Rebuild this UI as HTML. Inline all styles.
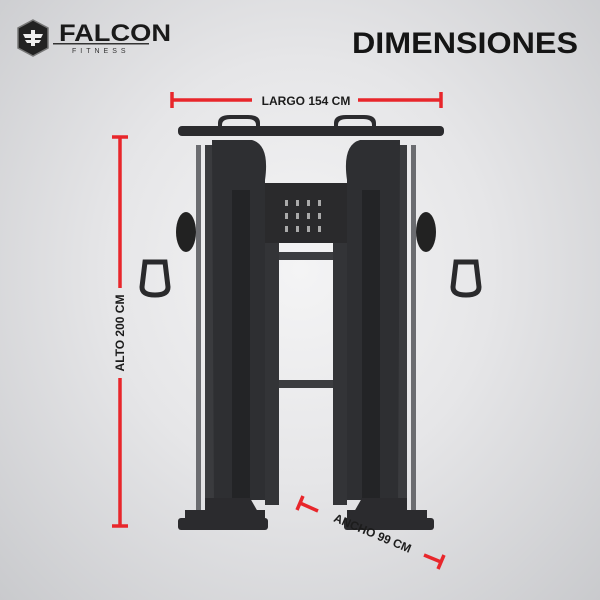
<!DOCTYPE html>
<html><head><style>
html,body{margin:0;padding:0;width:600px;height:600px;overflow:hidden}
body{background:radial-gradient(ellipse at 50% 45%,#f4f4f5 0%,#e6e6e8 45%,#c9cacd 100%);font-family:"Liberation Sans",sans-serif}
text{font-family:"Liberation Sans",sans-serif}
</style></head><body>
<svg width="600" height="600" viewBox="0 0 600 600" xmlns="http://www.w3.org/2000/svg">
<!-- logo -->
<polygon points="33,20 48,28 48,48 33,56 18,48 18,28" fill="#222" stroke="#777" stroke-width="1.5"/>
<path d="M23,34 L43,34 L41,38 L25,38Z M25,40 L41,40 L39,43 L27,43Z" fill="#eee"/>
<rect x="31" y="30" width="4" height="16" fill="#eee"/>
<text x="59" y="41" font-size="24" font-weight="bold" fill="#1a1a1a" textLength="112" lengthAdjust="spacingAndGlyphs">FALCON</text>
<rect x="53" y="43" width="96" height="1.5" fill="#333"/>
<text x="72" y="53" font-size="7" letter-spacing="4" fill="#333">FITNESS</text>
<text x="352" y="53" font-size="30" font-weight="bold" fill="#151515" textLength="226" lengthAdjust="spacingAndGlyphs">DIMENSIONES</text>
<!-- machine -->
<g fill="#2b2b2e">
<rect x="178" y="126" width="266" height="10" rx="4"/>
<path d="M218,123 q0,-8 12,-8 h18 q12,0 12,8 v5 h-4 v-3 q0,-6 -9,-6 h-16 q-9,0 -9,6 v3 h-4z"/>
<path d="M334,123 q0,-8 12,-8 h18 q12,0 12,8 v5 h-4 v-3 q0,-6 -9,-6 h-16 q-9,0 -9,6 v3 h-4z"/>
<rect x="196" y="145" width="5" height="370" fill="#6b6c70"/>
<rect x="205" y="145" width="12" height="370" fill="#3a3b3e"/>
<path d="M212,140 L252,140 Q270,145 265,180 L265,500 L250,500 L250,190 L232,190 L232,505 L214,505Z" fill="#2e2f32"/>
<rect x="232" y="190" width="18" height="310" fill="#232426"/>
<rect x="411" y="145" width="5" height="370" fill="#6b6c70"/>
<rect x="395" y="145" width="12" height="370" fill="#3a3b3e"/>
<path d="M400,140 L360,140 Q342,145 347,180 L347,500 L362,500 L362,190 L380,190 L380,505 L398,505Z" fill="#2e2f32"/>
<rect x="362" y="190" width="18" height="310" fill="#232426"/>
<rect x="265" y="183" width="82" height="60" fill="#2a2a2c"/>
<rect x="265" y="243" width="14" height="262" fill="#333437"/>
<rect x="333" y="243" width="14" height="262" fill="#333437"/>
<rect x="279" y="252" width="54" height="8" fill="#3c3d40"/>
<rect x="279" y="380" width="54" height="8" fill="#3c3d40"/>
<path d="M185,510 h80 v10 h-80z M205,498 h45 l8,14 h-53z"/>
<path d="M347,510 h80 v10 h-80z M362,498 h45 v14 h-53z"/>
<rect x="178" y="518" width="90" height="12" rx="3"/>
<rect x="344" y="518" width="90" height="12" rx="3"/>
<ellipse cx="186" cy="232" rx="10" ry="20" fill="#222"/>
<ellipse cx="426" cy="232" rx="10" ry="20" fill="#222"/>
<path d="M145,262 h20 l3,25 q0,8 -13,8 q-13,0 -13,-8z" fill="none" stroke="#2a2a2c" stroke-width="5"/>
<path d="M456,262 h20 l3,25 q0,8 -13,8 q-13,0 -13,-8z" fill="none" stroke="#2a2a2c" stroke-width="5"/>
</g>
<g fill="#aaa"><rect x="285" y="200" width="3" height="6"/><rect x="296" y="200" width="3" height="6"/><rect x="307" y="200" width="3" height="6"/><rect x="318" y="200" width="3" height="6"/>
<rect x="285" y="213" width="3" height="6"/><rect x="296" y="213" width="3" height="6"/><rect x="307" y="213" width="3" height="6"/><rect x="318" y="213" width="3" height="6"/>
<rect x="285" y="226" width="3" height="6"/><rect x="296" y="226" width="3" height="6"/><rect x="307" y="226" width="3" height="6"/><rect x="318" y="226" width="3" height="6"/></g>
<!-- dimension lines -->
<g stroke="#e8262b" stroke-width="3.5" fill="none">
<line x1="172" y1="100" x2="252" y2="100"/><line x1="358" y1="100" x2="441" y2="100"/>
<line x1="172" y1="92" x2="172" y2="108"/><line x1="441" y1="92" x2="441" y2="108"/>
<line x1="120" y1="137" x2="120" y2="288"/><line x1="120" y1="378" x2="120" y2="526"/>
<line x1="112" y1="137" x2="128" y2="137"/><line x1="112" y1="526" x2="128" y2="526"/>
<line x1="300" y1="503" x2="318" y2="511"/><line x1="424" y1="555" x2="441" y2="562"/>
<line x1="297" y1="510" x2="303" y2="496"/><line x1="438" y1="569" x2="444" y2="555"/>
</g>
<text x="306" y="105" font-size="12" font-weight="bold" fill="#1c1c1c" text-anchor="middle">LARGO 154 CM</text>
<text transform="translate(124,333) rotate(-90)" font-size="12" font-weight="bold" fill="#1c1c1c" text-anchor="middle">ALTO 200 CM</text>
<text transform="translate(371,537) rotate(22.7)" font-size="12" font-weight="bold" fill="#1c1c1c" text-anchor="middle">ANCHO 99 CM</text>
</svg>
</body></html>
